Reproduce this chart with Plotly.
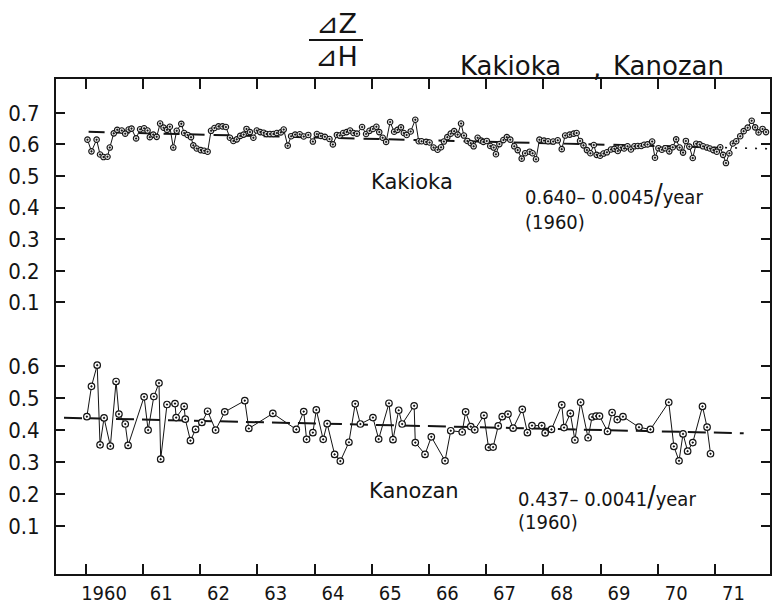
import plotly.graph_objects as go

# ---------------- data ----------------
kak_years = [1960.03, 1960.10, 1960.19, 1960.25, 1960.31, 1960.38, 1960.42, 1960.49, 1960.55, 1960.63,
             1960.69, 1960.75, 1960.80, 1960.88, 1960.95, 1961.02, 1961.08, 1961.12, 1961.18, 1961.24,
             1961.30, 1961.36, 1961.42, 1961.47, 1961.53, 1961.59, 1961.67, 1961.72, 1961.78, 1961.84,
             1961.88, 1961.94, 1962.01, 1962.07, 1962.13, 1962.19, 1962.25, 1962.32, 1962.39, 1962.45,
             1962.52, 1962.58, 1962.64, 1962.70, 1962.76, 1962.81, 1962.87, 1962.93, 1962.99, 1963.05,
             1963.11, 1963.16, 1963.22, 1963.28, 1963.34, 1963.41, 1963.46, 1963.53, 1963.59, 1963.66,
             1963.74, 1963.81, 1963.89, 1963.97, 1964.04, 1964.11, 1964.18, 1964.26, 1964.32, 1964.39,
             1964.44, 1964.50, 1964.56, 1964.62, 1964.68, 1964.74, 1964.83, 1964.90, 1964.96, 1965.02,
             1965.08, 1965.13, 1965.19, 1965.25, 1965.32, 1965.39, 1965.45, 1965.51, 1965.56, 1965.61,
             1965.68, 1965.76, 1965.82, 1965.87, 1965.95, 1966.01, 1966.08, 1966.15, 1966.21, 1966.26,
             1966.32, 1966.38, 1966.44, 1966.50, 1966.56, 1966.61, 1966.67, 1966.73, 1966.78, 1966.85,
             1966.91, 1966.95, 1967.01, 1967.07, 1967.13, 1967.17, 1967.23, 1967.30, 1967.36, 1967.42,
             1967.49, 1967.55, 1967.62, 1967.68, 1967.76, 1967.81, 1967.87, 1967.93, 1968.01, 1968.08,
             1968.17, 1968.25, 1968.32, 1968.38, 1968.46, 1968.53, 1968.58, 1968.64, 1968.70, 1968.76,
             1968.82, 1968.88, 1968.93, 1968.99, 1969.05, 1969.11, 1969.18, 1969.24, 1969.30, 1969.35,
             1969.41, 1969.47, 1969.53, 1969.59, 1969.65, 1969.71, 1969.76, 1969.82, 1969.90, 1969.95,
             1970.01, 1970.07, 1970.13, 1970.20, 1970.26, 1970.32, 1970.38, 1970.44, 1970.49, 1970.55,
             1970.61, 1970.67, 1970.73, 1970.79, 1970.86, 1970.91, 1970.97, 1971.03, 1971.09, 1971.14,
             1971.19, 1971.25, 1971.31, 1971.37, 1971.44, 1971.50, 1971.57, 1971.64, 1971.70, 1971.76,
             1971.83, 1971.89]
kak_vals = [0.615, 0.578, 0.615, 0.568, 0.560, 0.561, 0.590, 0.635, 0.646, 0.644,
            0.634, 0.647, 0.650, 0.619, 0.648, 0.651, 0.644, 0.623, 0.631, 0.624,
            0.666, 0.653, 0.646, 0.656, 0.590, 0.643, 0.665, 0.636, 0.630, 0.623,
            0.597, 0.587, 0.582, 0.580, 0.577, 0.643, 0.652, 0.657, 0.657, 0.655,
            0.621, 0.611, 0.616, 0.627, 0.631, 0.649, 0.639, 0.621, 0.644, 0.639,
            0.637, 0.633, 0.633, 0.633, 0.636, 0.638, 0.647, 0.596, 0.626, 0.631,
            0.632, 0.625, 0.630, 0.609, 0.633, 0.627, 0.624, 0.617, 0.600, 0.630,
            0.628, 0.636, 0.639, 0.644, 0.636, 0.634, 0.655, 0.633, 0.643, 0.649,
            0.656, 0.639, 0.621, 0.608, 0.671, 0.640, 0.646, 0.654, 0.636, 0.630,
            0.641, 0.678, 0.610, 0.610, 0.608, 0.606, 0.590, 0.583, 0.591, 0.609,
            0.623, 0.634, 0.642, 0.631, 0.666, 0.628, 0.611, 0.604, 0.594, 0.621,
            0.612, 0.608, 0.611, 0.595, 0.590, 0.569, 0.601, 0.614, 0.623, 0.615,
            0.594, 0.582, 0.555, 0.572, 0.577, 0.572, 0.553, 0.615, 0.612, 0.610,
            0.609, 0.613, 0.585, 0.628, 0.631, 0.634, 0.636, 0.611, 0.597, 0.582,
            0.572, 0.598, 0.567, 0.564, 0.571, 0.575, 0.584, 0.586, 0.579, 0.590,
            0.587, 0.594, 0.584, 0.594, 0.595, 0.595, 0.599, 0.600, 0.609, 0.558,
            0.588, 0.583, 0.588, 0.578, 0.591, 0.616, 0.590, 0.574, 0.611, 0.593,
            0.557, 0.602, 0.600, 0.594, 0.590, 0.587, 0.582, 0.577, 0.591, 0.567,
            0.541, 0.572, 0.603, 0.610, 0.626, 0.642, 0.653, 0.675, 0.654, 0.638,
            0.649, 0.639]

kan_years = [1960.02, 1960.10, 1960.20, 1960.25, 1960.32, 1960.43, 1960.53, 1960.58, 1960.69, 1960.74,
             1961.02, 1961.09, 1961.19, 1961.28, 1961.31, 1961.42, 1961.56, 1961.58, 1961.72, 1961.74,
             1961.83, 1961.92, 1962.03, 1962.13, 1962.27, 1962.43, 1962.78, 1962.85, 1963.27, 1963.68,
             1963.81, 1963.86, 1963.97, 1964.03, 1964.15, 1964.22, 1964.35, 1964.45, 1964.60, 1964.71,
             1964.80, 1965.02, 1965.12, 1965.30, 1965.37, 1965.47, 1965.53, 1965.74, 1965.76, 1965.93,
             1966.04, 1966.28, 1966.38, 1966.58, 1966.64, 1966.73, 1966.80, 1966.96, 1967.04, 1967.12,
             1967.21, 1967.28, 1967.38, 1967.47, 1967.63, 1967.72, 1967.80, 1967.97, 1968.03, 1968.14,
             1968.32, 1968.36, 1968.47, 1968.55, 1968.65, 1968.78, 1968.85, 1968.92, 1968.98, 1969.12,
             1969.20, 1969.29, 1969.39, 1969.67, 1969.87, 1970.19, 1970.28, 1970.37, 1970.44, 1970.52,
             1970.61, 1970.78, 1970.86, 1970.92]
kan_vals = [0.442, 0.537, 0.603, 0.354, 0.438, 0.350, 0.552, 0.450, 0.419, 0.352,
            0.504, 0.400, 0.505, 0.547, 0.309, 0.480, 0.483, 0.439, 0.474, 0.434,
            0.367, 0.402, 0.424, 0.459, 0.400, 0.457, 0.492, 0.405, 0.452, 0.402,
            0.458, 0.371, 0.392, 0.463, 0.371, 0.420, 0.324, 0.303, 0.362, 0.482,
            0.419, 0.439, 0.372, 0.484, 0.370, 0.462, 0.419, 0.476, 0.361, 0.324,
            0.379, 0.304, 0.398, 0.394, 0.457, 0.411, 0.401, 0.446, 0.346, 0.347,
            0.413, 0.442, 0.450, 0.406, 0.465, 0.392, 0.414, 0.414, 0.391, 0.402,
            0.479, 0.408, 0.452, 0.369, 0.487, 0.376, 0.441, 0.444, 0.444, 0.396,
            0.455, 0.433, 0.442, 0.409, 0.402, 0.487, 0.349, 0.304, 0.388, 0.334,
            0.361, 0.474, 0.409, 0.326]

# trend lines: 0.640 - 0.0045/year and 0.437 - 0.0041/year (from 1960)
kak_trend_years = [1960.05, 1971.0]
kak_trend_vals = [0.640, 0.5905]
kak_ext_years = [1971.0, 1971.95]
kak_ext_vals = [0.5905, 0.5862]
kan_trend_years = [1959.62, 1971.5]
kan_trend_vals = [0.4386, 0.3900]

year_ticks = [1960, 1961, 1962, 1963, 1964, 1965, 1966, 1967, 1968, 1969, 1970, 1971]
year_labels = ["1960", "61", "62", "63", "64", "65", "66", "67", "68", "69", "70", "71"]
upper_ticks = [0.1, 0.2, 0.3, 0.4, 0.5, 0.6, 0.7]
upper_labels = ["0.1", "0.2", "0.3", "0.4", "0.5", "0.6", "0.7"]
lower_ticks = [0.1, 0.2, 0.3, 0.4, 0.5, 0.6]
lower_labels = ["0.1", "0.2", "0.3", "0.4", "0.5", "0.6"]
divider_tick = [0.7]

# ---------------- styling ----------------
INK = "#141414"
NUM_FONT = "Liberation Sans Narrow, DejaVu Sans Condensed, Arial Narrow, Liberation Sans, sans-serif"
TXT_FONT = "DejaVu Sans, Liberation Sans, sans-serif"

W, H = 784, 606
ML, MR, MT, MB = 56, 14, 79, 32
PW, PH = W - ML - MR, H - MT - MB
SPLIT = 240 / PH


def px(x, y):
    return (x - ML) / PW, (H - MB - y) / PH


marker_kan = dict(symbol="circle-dot", size=6.5, color="white", line=dict(color=INK, width=1.2))
marker_kak = dict(symbol="circle-dot", size=5.5, color="#e0e0e0", line=dict(color=INK, width=1.1))

fig = go.Figure()
fig.add_trace(go.Scatter(x=kan_trend_years, y=kan_trend_vals, xaxis="x", yaxis="y", mode="lines",
                         line=dict(color=INK, width=2, dash="18px,8px"), hoverinfo="skip"))
fig.add_trace(go.Scatter(x=kan_years, y=kan_vals, xaxis="x", yaxis="y", mode="lines+markers",
                         line=dict(color=INK, width=1), marker=marker_kan))
fig.add_trace(go.Scatter(x=kak_trend_years, y=kak_trend_vals, xaxis="x", yaxis="y2", mode="lines",
                         line=dict(color=INK, width=2, dash="16px,9px"), hoverinfo="skip"))
fig.add_trace(go.Scatter(x=kak_ext_years, y=kak_ext_vals, xaxis="x", yaxis="y2", mode="lines",
                         line=dict(color=INK, width=1.6, dash="2px,8px"), hoverinfo="skip"))
fig.add_trace(go.Scatter(x=kak_years, y=kak_vals, xaxis="x", yaxis="y2", mode="lines+markers",
                         line=dict(color=INK, width=1), marker=marker_kak))
# empty traces so that the tick-only overlay axes are registered and drawn
for xa, ya in (("x3", "y"), ("x2", "y2"), ("x", "y3")):
    fig.add_trace(go.Scatter(x=[], y=[], xaxis=xa, yaxis=ya, mode="markers", hoverinfo="skip"))

xr = [1959.48, 1971.96]
lr = [-0.05, 0.7005]
num_font = dict(family=NUM_FONT, size=22, color=INK)

common = dict(showgrid=False, zeroline=False, automargin=False)
fig.update_layout(
    width=W, height=H, showlegend=False,
    margin=dict(l=ML, r=MR, t=MT, b=MB, autoexpand=False),
    paper_bgcolor="white", plot_bgcolor="white",
    # bottom axis: labels centred in each year
    xaxis=dict(domain=[0, 1], range=xr, anchor="y",
               tickmode="array", tickvals=[t + 0.32 for t in year_ticks], ticktext=year_labels,
               ticks="", ticklen=0, showline=True, linewidth=2, linecolor=INK,
               tickfont=dict(family=NUM_FONT, size=20, color=INK), ticklabelstandoff=0, **common),
    # bottom axis: year-boundary ticks
    xaxis3=dict(domain=[0, 1], range=xr, anchor="y", overlaying="x", side="bottom",
                tickmode="array", tickvals=year_ticks, ticks="inside", ticklen=10,
                tickwidth=1.6, tickcolor=INK, showticklabels=False, showline=False, **common),
    # top axis
    xaxis2=dict(domain=[0, 1], range=xr, anchor="y2", overlaying="x", side="top",
                tickmode="array", tickvals=year_ticks, ticks="inside", ticklen=10,
                tickwidth=1.6, tickcolor=INK, showticklabels=False,
                showline=True, linewidth=2, linecolor=INK, **common),
    yaxis=dict(domain=[0, SPLIT], range=lr, anchor="x",
               tickmode="array", tickvals=lower_ticks, ticktext=lower_labels,
               ticks="inside", ticklen=9, tickwidth=1.6, tickcolor=INK,
               showline=True, linewidth=2, linecolor=INK,
               mirror="ticks", ticklabelstandoff=10, tickfont=num_font, **common),
    yaxis3=dict(domain=[0, SPLIT], range=lr, anchor="x", overlaying="y",
                tickmode="array", tickvals=divider_tick, ticks="inside", ticklen=19,
                tickwidth=1.6, tickcolor=INK, showticklabels=False,
                showline=True, linewidth=2, linecolor=INK, mirror="ticks", **common),
    yaxis2=dict(domain=[SPLIT, 1], range=[0, 0.807], anchor="x",
                tickmode="array", tickvals=upper_ticks, ticktext=upper_labels,
                ticks="inside", ticklen=9, tickwidth=1.6, tickcolor=INK,
                showline=True, linewidth=2, linecolor=INK,
                mirror="ticks", ticklabelstandoff=10, tickfont=num_font, **common),
)

annos = [
    ("⊿Z", 336, 24, 27, TXT_FONT, "center"),
    ("⊿H", 336, 57, 27, TXT_FONT, "center"),
    ("Kakioka", 511, 66, 26, TXT_FONT, "center"),
    (",", 597, 68, 26, TXT_FONT, "center"),
    ("Kanozan", 668, 66, 26, TXT_FONT, "center"),
    ("Kakioka", 412, 182, 21, TXT_FONT, "center"),
    ("Kanozan", 414, 491, 21, TXT_FONT, "center"),
    ("0.640– 0.0045<span style='font-size:28px'>/</span>year", 523, 195, 20, NUM_FONT, "left"),
    ("(1960)", 523, 222, 20, NUM_FONT, "left"),
    ("0.437– 0.0041<span style='font-size:28px'>/</span>year", 516, 496, 20, NUM_FONT, "left"),
    ("(1960)", 516, 522, 20, NUM_FONT, "left"),
]
for text, x, y, size, fam, anchor in annos:
    ax, ay = px(x, y)
    fig.add_annotation(text=text, x=ax, y=ay, xref="paper", yref="paper",
                       xanchor=anchor, yanchor="middle", showarrow=False,
                       font=dict(family=fam, size=size, color=INK))

# fraction bar of dZ/dH
x0, y0 = px(309, 40)
x1, _ = px(363, 40)
fig.add_shape(type="line", xref="paper", yref="paper", x0=x0, x1=x1, y0=y0, y1=y0,
              line=dict(color=INK, width=2))

fig.write_html("out.html")
